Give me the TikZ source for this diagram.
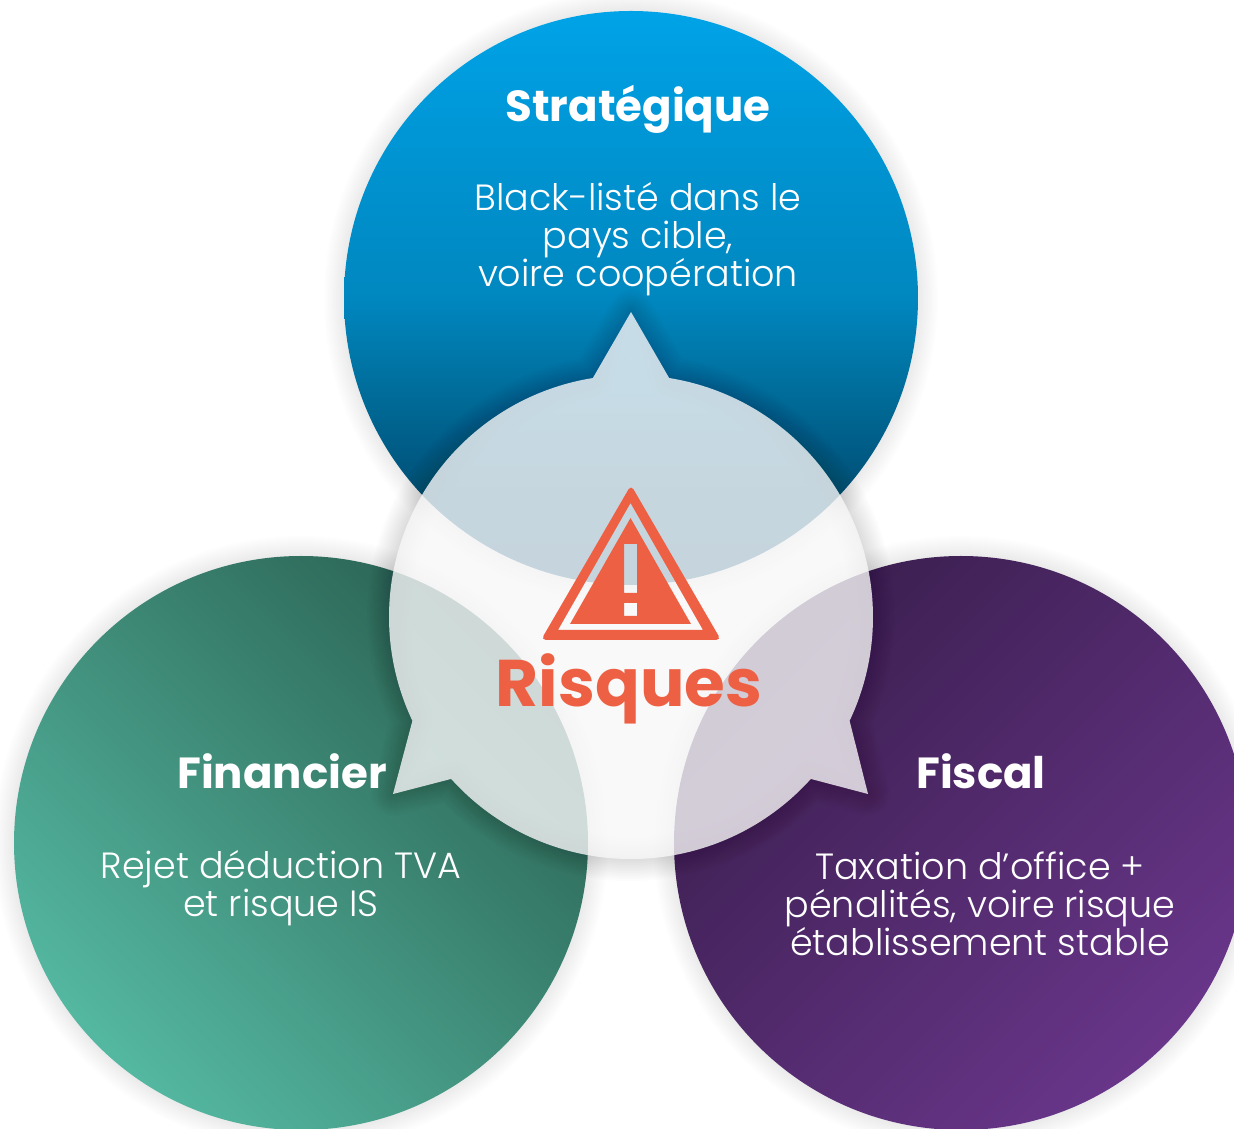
\documentclass[tikz,border=0pt]{standalone}
\usepackage{fontspec}
\usetikzlibrary{calc}
\setmainfont{Poppins}
\newfontfamily\titlef{Poppins Bold}
\newfontfamily\bodyf{Poppins Light}
\pgfdeclareverticalshading{topblue}{100bp}{rgb(0bp)=(0,.29,.42); rgb(25bp)=(0,.29,.42); rgb(34bp)=(0,.325,.48); rgb(41bp)=(0,.415,.59); rgb(50bp)=(0,.53,.75); rgb(65bp)=(0,.59,.84); rgb(75bp)=(0,.64,.91); rgb(100bp)=(0,.64,.91)}
\pgfdeclareverticalshading{greenfade}{100bp}{rgb(0bp)=(.33,.72,.63); rgb(25bp)=(.33,.72,.63); rgb(75bp)=(.17,.39,.33); rgb(100bp)=(.17,.39,.33)}
\pgfdeclareverticalshading{purplefade}{100bp}{rgb(0bp)=(.23,.12,.31); rgb(25bp)=(.23,.12,.31); rgb(75bp)=(.41,.21,.54); rgb(100bp)=(.41,.21,.54)}
\definecolor{alert}{HTML}{EE6044}
\definecolor{bubblefill}{HTML}{F8F8F9}
\tikzset{
  titletext/.style={text=white,font=\titlef\fontsize{43.5}{50}\selectfont,anchor=center,inner sep=0pt},
  bodytext/.style={text=white,font=\bodyf\fontsize{36.5}{38}\selectfont,align=center,anchor=center,inner sep=0pt},
  alerttext/.style={text=alert,font=\titlef\fontsize{66}{70}\selectfont,anchor=base,inner sep=0pt},
}
\begin{document}
\begin{tikzpicture}[x=1pt,y=1pt]
\useasboundingbox (0,0) rectangle (1234,1128);
\clip (0,0) rectangle (1234,1128);
\fill[white] (0,0) rectangle (1234,1128);
\coordinate (ctop) at (631,830);
\coordinate (cleft) at (301,285);
\coordinate (cright) at (961,285);
\coordinate (cmid) at (631,511);
% circle shadows
\foreach \c in {ctop,cleft,cright}{
  \foreach \w in {4,8,...,40}{
    \draw[black,opacity=.007,line width=\w pt] (\c) circle (287);
  }
}
\shade[shading=greenfade,shading angle=-45] (cleft) circle (287);
\shade[shading=purplefade,shading angle=-135] (cright) circle (287);
\shade[shading=topblue] (ctop) circle (287);
% bubble
\def\bubble{($(cmid)+(99.07:242)$) arc (99.07:205.4:242) -- (393,334) -- ($(cmid)+(222:242)$) arc (222:318:242) -- (868,334) -- ($(cmid)+(334.6:242)$) arc (334.6:440.93:242) -- (631,816) -- cycle}
\foreach \w in {4,8,...,44}{
  \draw[black,opacity=.012,line width=\w pt,line join=round] \bubble;
}
\fill[bubblefill,opacity=.8] \bubble;
% warning sign
\fill[alert,even odd rule]
  [rounded corners=5pt] (631,643) -- (721,488) -- (541,488) -- cycle
  [sharp corners] (630.5,625) -- (703,498) -- (558,498) -- cycle
  (630.5,610) -- (691,504) -- (570,504) -- cycle
  (624,584) -- (637,584) -- (637,535) -- (624,535) -- cycle
  (624,525) -- (637,525) -- (637,512) -- (624,512) -- cycle;
% texts
\node[titletext] (t1) at (638,1019) {Stratégique};
\node[bodytext] (b1) at (638,889) {Black-listé dans le\\pays cible,\\voire coopération};
\node[titletext] (t2) at (282,357) {Financier};
\node[bodytext] (b2) at (281,240) {Rejet déduction TVA\\et risque IS};
\node[titletext] (t3) at (981,357) {Fiscal};
\node[bodytext] (b3) at (980,224) {Taxation d’office +\\pénalités, voire risque\\établissement stable};
\node[alerttext] (risk) at (629,421) {Risques};
\end{tikzpicture}
\end{document}
